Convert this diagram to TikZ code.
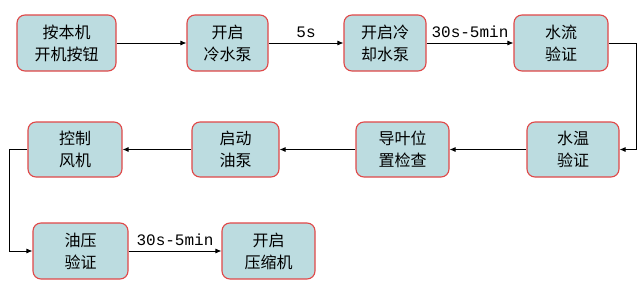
\documentclass[tikz,border=0pt]{standalone}
\usepackage{fontspec}
\newfontfamily\cjk{Noto Sans CJK SC}
\newfontfamily\lblfont{Liberation Mono}
\usetikzlibrary{arrows.meta}
\definecolor{boxfill}{HTML}{BCDCE0}
\definecolor{boxline}{HTML}{E04848}
\begin{document}
\begin{tikzpicture}[x=1pt,y=-1pt,
  box/.style={draw=boxline,line width=1.1pt,fill=boxfill,rounded corners=8pt,
    minimum height=56pt,inner sep=0pt,align=center,
    font=\cjk\fontsize{16}{22}\selectfont},
  conn/.style={line width=0.9pt,-{Latex[length=6pt,width=5pt]}},
  lbl/.style={font=\lblfont\fontsize{16}{18}\selectfont,inner sep=1pt}]
\useasboundingbox[fill=white] (0,0) rectangle (640,289);
\node[box,minimum width=99pt] (b1) at (66.5,43) {按本机\\开机按钮};
\node[box,minimum width=81pt] (b2) at (227.5,43) {开启\\冷水泵};
\node[box,minimum width=82pt] (b3) at (385,43) {开启冷\\却水泵};
\node[box,minimum width=94pt] (b4) at (561,43) {水流\\验证};
\node[box,minimum width=92pt,minimum height=55pt] (b5) at (573,149.5) {水温\\验证};
\node[box,minimum width=93pt,minimum height=55pt] (b6) at (402.5,149.5) {导叶位\\置检查};
\node[box,minimum width=87pt,minimum height=55pt] (b7) at (235.5,149.5) {启动\\油泵};
\node[box,minimum width=94pt,minimum height=55pt] (b8) at (75,149.5) {控制\\风机};
\node[box,minimum width=95pt] (b9) at (80.5,251) {油压\\验证};
\node[box,minimum width=93pt] (b10) at (268.5,251) {开启\\压缩机};
\coordinate (r1) at (636,43);
\coordinate (l1) at (9,149.5);
\draw[conn] (b1) -- (b2);
\draw[conn] (b2) -- node[lbl,above=4pt] {5s} (b3);
\draw[conn] (b3) -- node[lbl,above=4pt] {30s-5min} (b4);
\draw[conn] (b4.east) -- (r1) |- (b5.east);
\draw[conn] (b5) -- (b6);
\draw[conn] (b6) -- (b7);
\draw[conn] (b7) -- (b8);
\draw[conn] (b8.west) -- (l1) |- (b9.west);
\draw[conn] (b9) -- node[lbl,above=4pt] {30s-5min} (b10);
\end{tikzpicture}
\end{document}
